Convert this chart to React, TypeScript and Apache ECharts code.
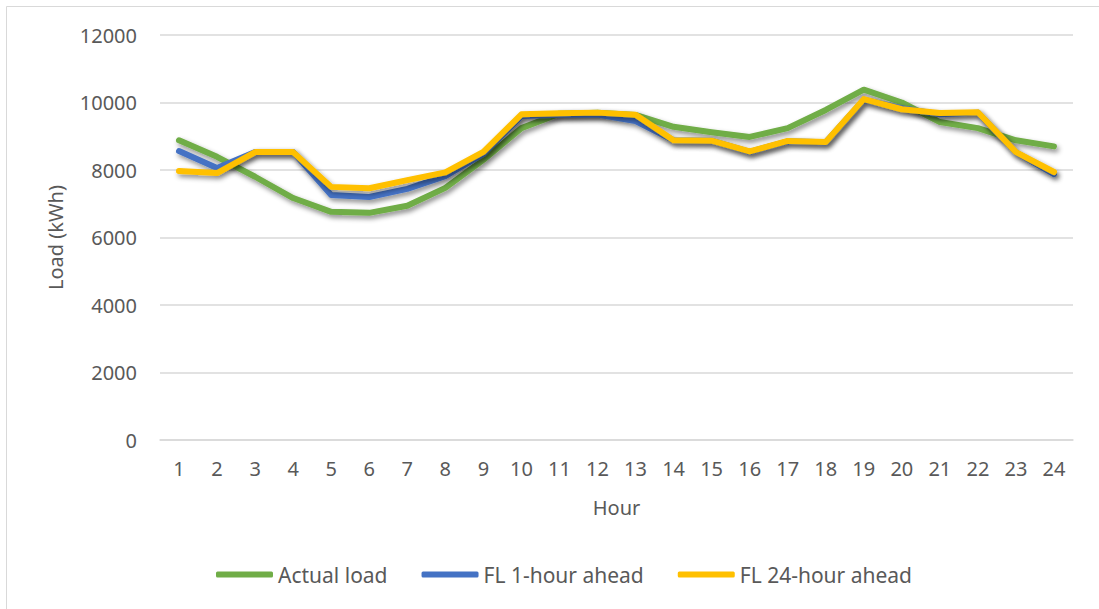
import React, { useEffect, useRef } from "react";
import * as echarts from "echarts";

const hours = ["1","2","3","4","5","6","7","8","9","10","11","12","13","14","15","16","17","18","19","20","21","22","23","24"];
const actualLoad = [8880, 8390, 7800, 7170, 6760, 6730, 6940, 7470, 8300, 9240, 9670, 9700, 9630, 9280, 9120, 8980, 9240, 9780, 10380, 10000, 9420, 9240, 8880, 8700];
const fl1Hour = [8560, 8060, 8530, 8530, 7260, 7200, 7440, 7820, 8480, 9600, 9640, 9640, 9450, 8880, 8870, 8540, 8850, 8820, 10080, 9830, 9650, 9700, 8520, 7880];
const fl24Hour = [7970, 7910, 8530, 8530, 7500, 7460, 7700, 7930, 8540, 9650, 9680, 9700, 9640, 8880, 8870, 8550, 8860, 8830, 10100, 9800, 9690, 9710, 8530, 7940];
const seriesNames = ["Actual load", "FL 1-hour ahead", "FL 24-hour ahead"];
const colors = ["#70AD47", "#4472C4", "#FFC000"];

const FONT = "'Noto Sans', sans-serif";
const TEXT = "#595959";

export default function App() {
  const ref = useRef<HTMLDivElement>(null);
  useEffect(() => {
    document.body.style.margin = "0";
    const chart = echarts.init(ref.current!, null, { renderer: "svg" });
    const mk = (name: string, data: number[], color: string) => ({
      name,
      type: "line",
      data,
      showSymbol: false,
      symbol: "none",
      color,
      lineStyle: {
        width: 6,
        color,
        cap: "round",
        join: "round",
        shadowColor: "rgba(0,0,0,0.45)",
        shadowBlur: 5,
        shadowOffsetX: 2,
        shadowOffsetY: 3,
      },
    });
    chart.setOption({
      animation: false,
      backgroundColor: "#fff",
      textStyle: { fontFamily: FONT },
      graphic: [
        { type: "line", shape: { x1: 6.5, y1: 6.5, x2: 1099, y2: 6.5 }, style: { stroke: "#D9D9D9", lineWidth: 1 } },
        { type: "line", shape: { x1: 6.5, y1: 6.5, x2: 6.5, y2: 609 }, style: { stroke: "#D9D9D9", lineWidth: 1 } },
      ],
      grid: { left: 160, right: 26, top: 35, bottom: 169 },
      legend: {
        bottom: 19,
        left: 211,
        itemWidth: 57,
        itemHeight: 6,
        itemGap: 34,
        icon: "roundRect",
        textStyle: { color: TEXT, fontSize: 21, fontFamily: FONT },
        data: seriesNames,
      },
      xAxis: {
        type: "category",
        data: hours,
        name: "Hour",
        nameLocation: "middle",
        nameGap: 57,
        nameTextStyle: { color: TEXT, fontSize: 20, fontFamily: FONT },
        axisLine: { lineStyle: { color: "#D9D9D9", width: 1.5 } },
        axisTick: { show: false },
        axisLabel: { color: TEXT, fontSize: 20, margin: 18, fontFamily: FONT },
      },
      yAxis: {
        type: "value",
        min: 0,
        max: 12000,
        interval: 2000,
        name: "Load (kWh)",
        nameLocation: "middle",
        nameGap: 95,
        nameTextStyle: { color: TEXT, fontSize: 20, fontFamily: FONT },
        axisLine: { show: false },
        axisTick: { show: false },
        axisLabel: { color: TEXT, fontSize: 20, margin: 23, fontFamily: FONT, formatter: (v: number) => String(v) },
        splitLine: { lineStyle: { color: "#D9D9D9", width: 1.5 } },
      },
      series: [
        mk(seriesNames[0], actualLoad, colors[0]),
        mk(seriesNames[1], fl1Hour, colors[1]),
        mk(seriesNames[2], fl24Hour, colors[2]),
      ],
    });
    return () => chart.dispose();
  }, []);
  return <div ref={ref} style={{ width: 1099, height: 609 }} />;
}
